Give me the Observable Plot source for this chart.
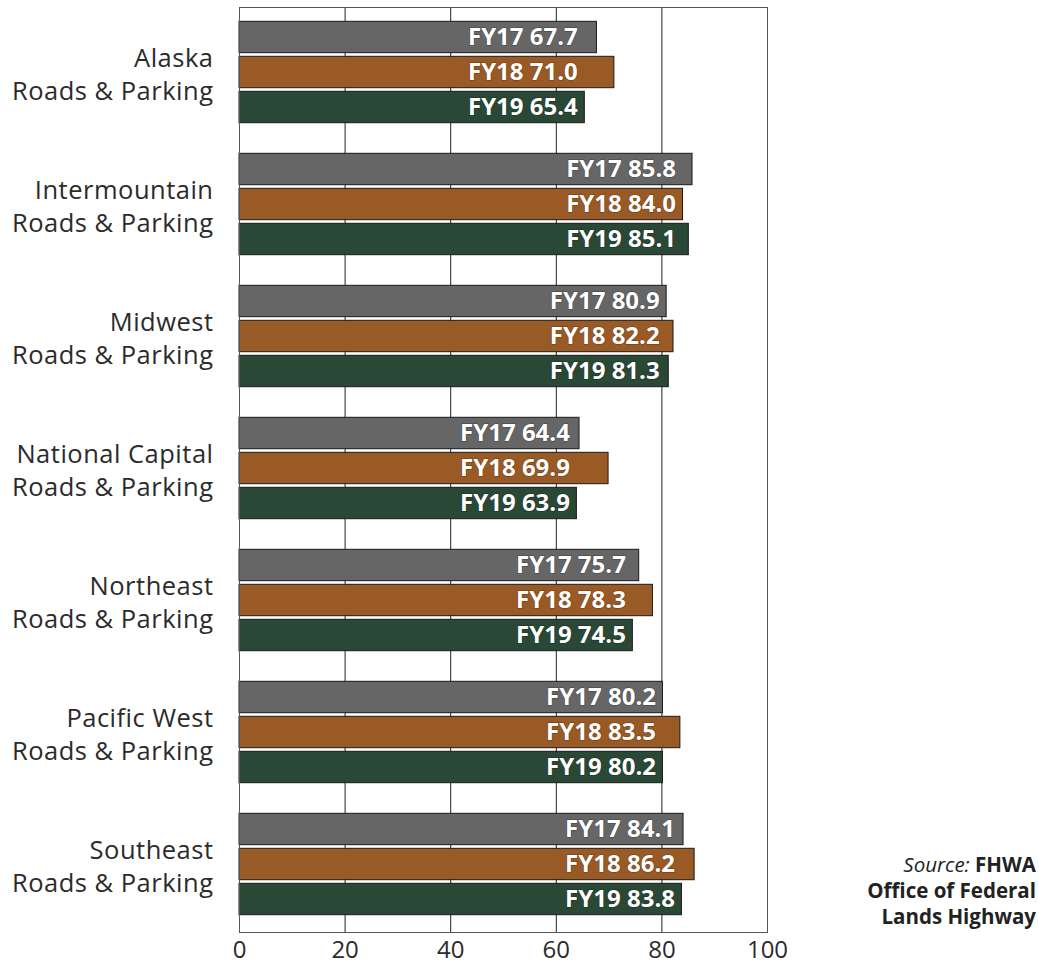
<!DOCTYPE html>
<html><head><meta charset="utf-8">
<script src="https://cdn.jsdelivr.net/npm/d3@7"></script>
<script src="https://cdn.jsdelivr.net/npm/@observablehq/plot@0.6"></script>
<style>
body{margin:0;background:#fff;font-family:"Open Sans",sans-serif;}
#wrap{position:relative;width:1039px;height:963px;}
#source{position:absolute;right:3px;top:851px;text-align:right;font-weight:bold;font-size:20.5px;line-height:26px;color:#222;}
#source i{font-weight:normal;}
g[aria-label="y-axis tick label"] text{letter-spacing:0.5px;}
</style></head><body>
<div id="wrap"><div id="chart"></div><div id="source"><i>Source:</i> FHWA<br>Office of Federal<br>Lands Highway</div></div>
<script>
const regions = ["Alaska", "Intermountain", "Midwest", "National Capital", "Northeast", "Pacific West", "Southeast"];
const regionLabels = ["Alaska\nRoads & Parking", "Intermountain\nRoads & Parking", "Midwest\nRoads & Parking", "National Capital\nRoads & Parking", "Northeast\nRoads & Parking", "Pacific West\nRoads & Parking", "Southeast\nRoads & Parking"];
const years = ["FY17", "FY18", "FY19"];
const fy17 = [67.7, 85.8, 80.9, 64.4, 75.7, 80.2, 84.1];
const fy18 = [71.0, 84.0, 82.2, 69.9, 78.3, 83.5, 86.2];
const fy19 = [65.4, 85.1, 81.3, 63.9, 74.5, 80.2, 83.8];
const xTicks = [0, 20, 40, 60, 80, 100];
const gridTicks = [20, 40, 60, 80];

const series = [fy17, fy18, fy19];
const colors = ["#666666", "#9a5a26", "#2a4836"];
const offsets = [-35, 0, 35];
const groupMin = regions.map((r, i) => d3.min(series, s => s[i]));
const rowsByYear = series.map((vals, j) => regions.map((r, i) => ({
  region: regionLabels[i], year: years[j], value: vals[i], min: groupMin[i]
})));

const marks = [Plot.ruleX(gridTicks, {stroke: "#222", strokeWidth: 1, insetTop: 3})];
rowsByYear.forEach((rows, j) => {
  marks.push(Plot.barX(rows, {x: "value", y: "region", fill: colors[j], stroke: "#1a1a1a", strokeWidth: 1,
    insetTop: 50.3, insetBottom: 50.3, dy: offsets[j]}));
  marks.push(Plot.text(rows, {x: "min", y: "region", text: d => `${d.year} ${d.value.toFixed(1)}`,
    dx: -7, dy: offsets[j], textAnchor: "end", fill: "white", fontWeight: "bold", fontSize: 24,
    stroke: "#000", strokeOpacity: 0.25, strokeWidth: 1.5}));
});
marks.push(Plot.frame({stroke: "#555", insetTop: 3}));
marks.push(Plot.axisY({tickSize: 0, tickPadding: 26, fontSize: 25.5, lineHeight: 1.3, label: null}));
marks.push(Plot.axisX({ticks: xTicks, tickSize: 0, tickPadding: 8, fontSize: 24, label: null}));

const chart = Plot.plot({
  width: 1039, height: 963,
  marginLeft: 239, marginRight: 272, marginTop: 4, marginBottom: 31,
  style: {fontFamily: "'Open Sans', sans-serif", color: "#2b2b2b", background: "#fff", overflow: "visible"},
  x: {domain: [0, 100]},
  y: {type: "band", domain: regionLabels, padding: 0},
  marks
});
document.getElementById("chart").appendChild(chart);
</script>
</body></html>
